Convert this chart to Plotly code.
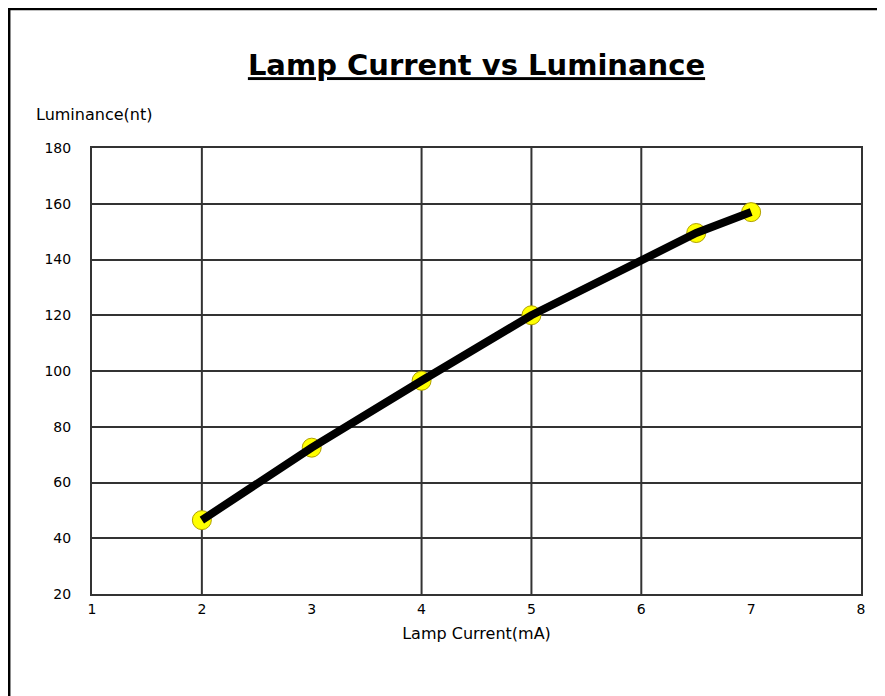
import plotly.graph_objects as go

# Data
current_mA = [2, 3, 4, 5, 6.5, 7]
luminance_nt = [46.5, 72.5, 96.5, 120, 149.5, 157]
x_tick_vals = [1, 2, 3, 4, 5, 6, 7, 8]
y_tick_vals = [20, 40, 60, 80, 100, 120, 140, 160, 180]
x_gridlines = [2, 4, 5, 6]

FONT = "DejaVu Sans"

fig = go.Figure()

# markers underneath the thick line
fig.add_trace(go.Scatter(
    x=current_mA, y=luminance_nt, mode="markers",
    marker=dict(size=19, color="#ffff00", line=dict(width=1, color="#b0a000")),
    showlegend=False, hoverinfo="skip"))
fig.add_trace(go.Scatter(
    x=current_mA, y=luminance_nt, mode="lines",
    line=dict(color="black", width=8),
    showlegend=False))

shapes = []
for gx in x_gridlines:
    shapes.append(dict(type="line", xref="x", yref="paper", x0=gx, x1=gx, y0=0, y1=1,
                       line=dict(color="#333333", width=2), layer="below"))
# outer chart frame (cropped on right/bottom)
shapes.append(dict(type="rect", xref="paper", yref="paper",
                   x0=-0.108, x1=1.2, y0=-0.4, y1=1.312,
                   line=dict(color="black", width=3), layer="below"))

# page body adds an 8px offset; compensate
fig.update_layout(
    width=877, height=688,
    margin=dict(l=84, r=24, t=140, b=102),
    paper_bgcolor="white", plot_bgcolor="white",
    font=dict(family=FONT, size=14, color="black"),
    title=dict(text="<b><u>Lamp Current vs Luminance</u></b>",
               x=0.5, xanchor="center", xref="paper",
               y=1 - 57 / 688, yanchor="middle",
               font=dict(family=FONT, size=29, color="black")),
    xaxis=dict(range=[1, 8], tickvals=x_tick_vals, showgrid=False, zeroline=False,
               showline=True, linecolor="#333333", linewidth=2, mirror=True,
               ticks="", ticklabelstandoff=1,
               title=dict(text="Lamp Current(mA)", font=dict(size=16), standoff=12)),
    yaxis=dict(range=[20, 180], tickvals=y_tick_vals, showgrid=True, gridcolor="#333333",
               gridwidth=2, zeroline=False,
               showline=True, linecolor="#333333", linewidth=2, mirror=True,
               ticks="", ticklabelstandoff=16),
    shapes=shapes,
    annotations=[dict(text="Luminance(nt)", xref="paper", yref="paper",
                      x=-0.075, y=1.075, xanchor="left", yanchor="middle",
                      showarrow=False, font=dict(family=FONT, size=16))],
)

fig.write_html("out.html")
